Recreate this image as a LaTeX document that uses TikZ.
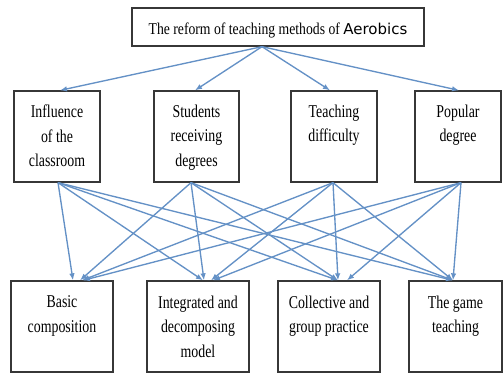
\documentclass[tikz,border=0pt]{standalone}
\usepackage{fontspec}
\setmainfont{Liberation Serif}
\newfontfamily\labelfont[FakeStretch=0.77]{Liberation Serif}
\newfontfamily\titlefont[FakeStretch=0.83]{Liberation Serif}
\newfontfamily\titlesans{DejaVu Sans}
\usetikzlibrary{arrows.meta}
\definecolor{linkblue}{RGB}{100,145,198}
\definecolor{framegray}{RGB}{55,55,55}

% text blocks of the factor boxes (top aligned inside a fixed frame)
\newcommand{\midtext}[2]{\parbox[c][91pt][t]{#1}{\centering\labelfont\fontsize{18pt}{24.5pt}\selectfont\vspace*{14pt}#2}}
\newcommand{\lowtext}[2]{\parbox[c][91pt][t]{#1}{\centering\labelfont\fontsize{18pt}{24.5pt}\selectfont\vspace*{15pt}#2}}

\begin{document}
\begin{tikzpicture}[x=1pt,y=-1pt,
  framebox/.style={draw=framegray, line width=1.3pt, inner sep=0pt, fill=white},
  link/.style={draw=linkblue, line width=1.35pt, -{Latex[length=7pt,width=5.5pt]}}]
\useasboundingbox (0,0) rectangle (503,375);

% title
\node[framebox] (top) at (278,27)
  {\parbox[c][38pt][t]{292pt}{\centering\titlefont\fontsize{16.5pt}{20pt}\selectfont\vspace*{15pt}The reform of teaching methods of \titlesans\fontsize{15pt}{20pt}\selectfont Aerobics}};

% factors
\node[framebox] (m1) at (57,136.5)    {\midtext{86pt}{Influence\\of the\\classroom}};
\node[framebox] (m2) at (196.5,136.5) {\midtext{85pt}{Students\\receiving\\degrees}};
\node[framebox] (m3) at (334,136.5)   {\midtext{86pt}{Teaching\\difficulty}};
\node[framebox] (m4) at (458,136.5)   {\midtext{86pt}{Popular\\degree}};

% methods
\node[framebox] (b1) at (62,326.5)    {\lowtext{102pt}{Basic\\composition}};
\node[framebox] (b2) at (198,326.5)   {\lowtext{102pt}{Integrated and\\decomposing\\model}};
\node[framebox] (b3) at (329,326.5)   {\lowtext{102pt}{Collective and\\group practice}};
\node[framebox] (b4) at (455.5,326.5) {\lowtext{93pt}{The game\\teaching}};

% title to factors
\draw[link] ([xshift=-16pt]top.south) -- ([xshift=3pt]m1.north);
\draw[link] ([xshift=-16pt]top.south) -- ([xshift=-1.5pt]m2.north);
\draw[link] ([xshift=-16pt]top.south) -- ([xshift=-4pt]m3.north);
\draw[link] ([xshift=-16pt]top.south) -- ([xshift=1pt]m4.north);

% factors to methods
\draw[link] ([xshift=1pt]m1.south) -- ([xshift=11pt]b1.north);
\draw[link] ([xshift=1pt]m1.south) -- ([xshift=5pt]b2.north);
\draw[link] ([xshift=1pt]m1.south) -- ([xshift=9pt]b3.north);
\draw[link] ([xshift=1pt]m1.south) -- ([xshift=-2.5pt]b4.north);

\draw[link] ([xshift=-5.5pt]m2.south) -- ([xshift=18pt]b1.north);
\draw[link] ([xshift=-5.5pt]m2.south) -- ([xshift=6pt]b2.north);
\draw[link] ([xshift=-5.5pt]m2.south) -- ([xshift=9pt]b3.north);
\draw[link] ([xshift=-5.5pt]m2.south) -- ([xshift=-2.5pt]b4.north);

\draw[link] ([xshift=-1pt]m3.south) -- ([xshift=20pt]b1.north);
\draw[link] ([xshift=-1pt]m3.south) -- ([xshift=13pt]b2.north);
\draw[link] ([xshift=-1pt]m3.south) -- ([xshift=9pt]b3.north);
\draw[link] ([xshift=-1pt]m3.south) -- ([xshift=-2.5pt]b4.north);

\draw[link] ([xshift=3pt]m4.south) -- ([xshift=21pt]b1.north);
\draw[link] ([xshift=3pt]m4.south) -- ([xshift=15pt]b2.north);
\draw[link] ([xshift=3pt]m4.south) -- ([xshift=18pt]b3.north);
\draw[link] ([xshift=3pt]m4.south) -- ([xshift=-2.5pt]b4.north);
\end{tikzpicture}
\end{document}
